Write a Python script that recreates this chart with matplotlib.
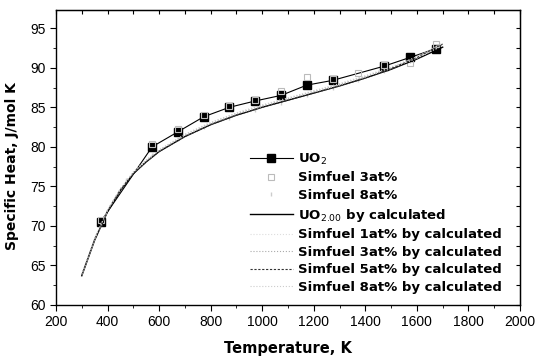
import numpy as np
import matplotlib as mpl
mpl.use('Agg')
import matplotlib.pyplot as plt
from matplotlib.ticker import MultipleLocator

plt.rcParams['font.family'] = ['Liberation Sans', 'DejaVu Sans']

# experimental data
t_uo2 = [373, 573, 673, 773, 873, 973, 1073, 1173, 1273, 1473, 1573, 1673]
cp_uo2 = [70.5, 80.0, 81.9, 83.8, 85.0, 85.8, 86.5, 87.8, 88.4, 90.2, 91.3, 92.4]

t_sf3 = [373, 573, 673, 773, 873, 973, 1073, 1173, 1273, 1373, 1473, 1573, 1673]
cp_sf3 = [70.8, 80.3, 82.2, 84.0, 85.1, 85.9, 87.0, 88.8, 88.6, 89.3, 90.3, 90.6, 93.0]

t_sf8 = [373, 473, 573, 673, 773, 873, 973, 1073, 1173, 1273, 1373, 1473, 1573, 1673]
cp_sf8 = [70.2, 75.8, 79.0, 81.0, 82.5, 83.6, 84.6, 85.6, 86.6, 87.5, 88.5, 89.6, 90.8, 92.6]

# calculated curves
t_calc = [300, 350, 400, 450, 500, 550, 600, 700, 800, 900, 1000, 1100, 1200, 1300, 1400, 1500, 1600, 1700]
cp_uo2_calc = [63.7, 68.2, 71.8, 74.5, 76.6, 78.1, 79.4, 81.3, 82.8, 84.0, 85.0, 85.9, 86.8, 87.7, 88.7, 89.8, 91.1, 92.6]
cp_sf1_calc = [63.8, 68.3, 71.9, 74.6, 76.7, 78.2, 79.5, 81.4, 82.9, 84.1, 85.1, 86.0, 86.9, 87.8, 88.8, 89.9, 91.2, 92.8]
cp_sf3_calc = [63.9, 68.4, 72.0, 74.7, 76.8, 78.3, 79.6, 81.5, 83.0, 84.2, 85.2, 86.1, 87.0, 87.9, 88.9, 90.0, 91.3, 92.9]
cp_sf5_calc = [63.8, 68.3, 71.9, 74.6, 76.6, 78.1, 79.4, 81.3, 82.8, 84.0, 85.0, 85.9, 86.8, 87.7, 88.7, 89.9, 91.3, 93.0]
cp_sf8_calc = [63.9, 68.4, 72.0, 74.7, 76.8, 78.3, 79.6, 81.6, 83.1, 84.3, 85.3, 86.2, 87.1, 88.0, 89.0, 90.1, 91.4, 93.1]

fig = plt.figure(figsize=(5.37, 3.59), dpi=100)
ax = fig.add_axes([56/537, 1-305/359, 464/537, 295/359])

ax.plot(t_uo2, cp_uo2, '-', color='black', lw=0.8, marker='s', ms=5.5, label='UO$_2$')
ax.plot(t_sf3, cp_sf3, ls='none', marker='s', ms=4, mfc='none', mec='#bbbbbb', mew=0.8, label='Simfuel 3at%')
ax.plot(t_sf8, cp_sf8, ls='none', marker='|', ms=3, color='#cccccc', label='Simfuel 8at%')
ax.plot(t_calc, cp_uo2_calc, '-', color='black', lw=1.0, label='UO$_{2.00}$ by calculated')
ax.plot(t_calc, cp_sf1_calc, ':', color='#dddddd', lw=0.8, label='Simfuel 1at% by calculated')
ax.plot(t_calc, cp_sf3_calc, ':', color='#aaaaaa', lw=0.8, label='Simfuel 3at% by calculated')
ax.plot(t_calc, cp_sf5_calc, '--', color='#333333', lw=0.8, dashes=(2, 1.5), label='Simfuel 5at% by calculated')
ax.plot(t_calc, cp_sf8_calc, ':', color='#cccccc', lw=0.8, label='Simfuel 8at% by calculated')

ax.set_xlim(200, 2000)
ax.set_ylim(60, 97.3)
ax.xaxis.set_major_locator(MultipleLocator(200))
ax.xaxis.set_minor_locator(MultipleLocator(100))
ax.yaxis.set_major_locator(MultipleLocator(5))
ax.yaxis.set_minor_locator(MultipleLocator(2.5))
ax.tick_params(which='both', direction='out', top=False, right=False, labelsize=10)
ax.tick_params(which='major', length=4)
ax.tick_params(which='minor', length=2.5)
for s in ax.spines.values():
    s.set_linewidth(1.0)

# inward ticks on top and right
ax2 = ax.secondary_xaxis('top')
ax2.xaxis.set_major_locator(MultipleLocator(100))
ax2.tick_params(direction='in', length=3, labeltop=False)
ax3 = ax.secondary_yaxis('right')
ax3.yaxis.set_major_locator(MultipleLocator(2.5))
ax3.tick_params(direction='in', length=3, labelright=False)

ax.set_xlabel('Temperature, K', fontsize=10.5, fontweight='bold', family='DejaVu Sans', labelpad=8)
ax.set_ylabel('Specific Heat, J/mol K', fontsize=10, fontweight='bold', family='DejaVu Sans')
ax.yaxis.set_label_coords(-0.08, 0.47)

leg = ax.legend(loc='upper left', bbox_to_anchor=(0.418, 0.52), frameon=False,
                prop={'weight': 'bold', 'size': 9.5, 'family': 'DejaVu Sans'}, handlelength=3.25,
                handletextpad=0.38, labelspacing=0.35, borderpad=0, borderaxespad=0)

plt.savefig('out.png', dpi=100)
